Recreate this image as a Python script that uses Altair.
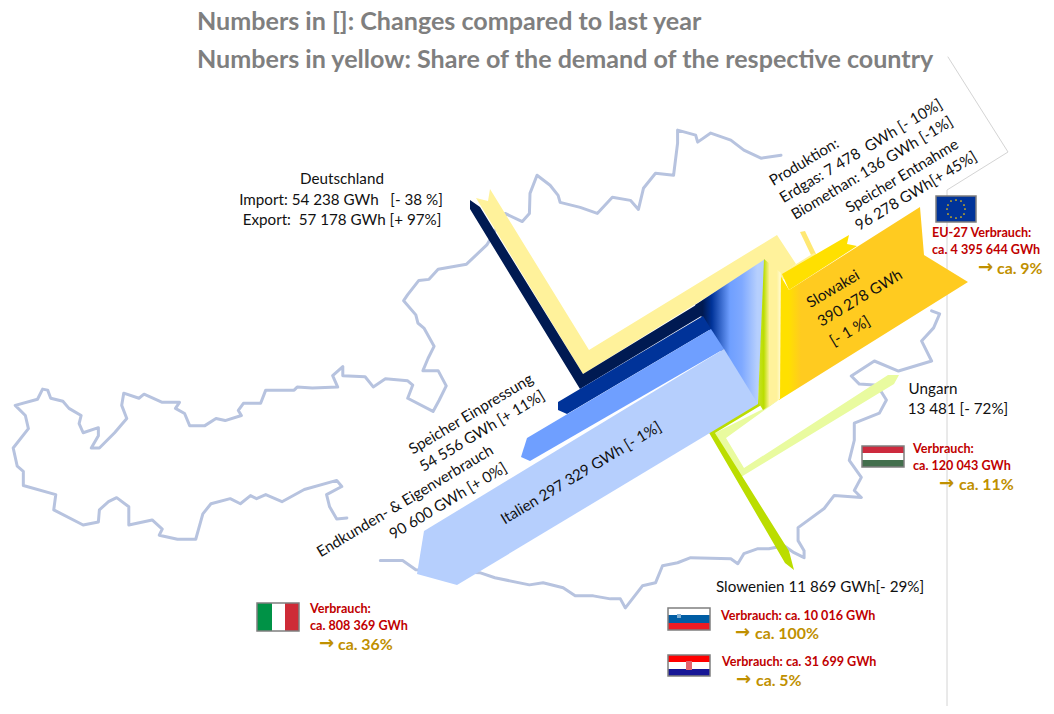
import altair as alt
import pandas as pd

W, H = 1038, 698
FONT = "Lato"

map_west_raw = [(342,516),(332,517),(325,505),(322,493),(337,485),(332,479),(300,488),(278,500),(262,493),(253,497),(247,494),(237,502),(227,497),(208,502),(200,512),(193,537),(175,537),(157,533),(160,527),(150,518),(127,523),(127,505),(115,496),(107,500),(98,508),(97,520),(82,523),(53,508),(55,493),(23,484),(23,470),(17,465),(13,447),(28,428),(25,415),(15,405),(37,399),(42,389),(47,390),(50,398),(62,401),(68,408),(80,415),(78,423),(82,432),(97,427),(97,435),(90,447),(98,447),(113,432),(125,418),(120,405),(122,393),(137,398),(142,394),(160,402),(177,402),(173,408),(182,413),(187,425),(202,425),(213,418),(222,420),(238,415),(235,410),(240,403),(257,403),(262,390),(290,390),(293,387),(308,384),(333,387),(328,372),(338,363),(338,372),(360,373),(368,383),(380,375),(402,377),(407,385),(402,398),(427,411),(433,400),(440,382),(432,367),(417,367),(422,355),(428,343),(418,325),(412,320),(410,312),(398,298),(402,292),(413,278),(423,277),(432,267),(460,262),(480,243),(498,212),(515,220),(522,212)]
map_north_raw = [(530,193),(537,175),(550,185),(558,195),(560,202),(580,207),(597,213),(612,197),(630,200),(638,209),(643,188),(655,173),(673,175),(677,143),(677,130),(695,135),(697,142),(710,133),(730,140),(743,150),(760,158),(780,155)]
map_east_raw = [(930,310),(938,313),(932,327),(920,340),(930,360),(897,370),(873,360),(850,375),(858,383),(873,385),(880,392),(885,400),(878,413),(853,423),(853,440),(848,460),(860,477),(853,490),(860,497),(833,495),(823,508),(797,527),(797,540),(803,550),(803,557),(793,552),(783,545),(768,548),(757,548),(743,553),(737,563),(730,558),(690,557),(677,562),(662,565),(655,582),(642,585),(625,607),(620,598),(610,598),(593,595),(575,595),(563,587),(543,582)]
map_south_raw = [(522,582),(488,575),(473,570),(410,567),(397,558),(375,558)]
box_outline = [(948,57),(1008,152),(947,190),(947,706)]

ungarn = [(763,409),(715,433),(741,477),(894,384),(899,375),(888,375),(744,468),(726,438),(780,399)]
slowenien = [(708,431),(760,400),(763,404),(715,433),(742,476),(789,551),(794,570),(785,563)]
creme = [(476,198),(488,201),(490,189),(589,350),(777,235),(796,264),(780,275),(765,261),(583,374)]
creme_link = [(780,274),(814,253),(818,256),(782,280)]
creme_stem = [(800,232),(805,231),(816,254),(811,255)]
navy = [(470,200),(480,207),(583,374),(701,302),(703,315),(580,389),(470,209)]
entnahme = [(782,274),(849,235),(847,244),(857,246),(789,290)]
slowakei = [(780,275),(789,290),(920,207),(924,255),(968,282),(779,400)]
einpressung = [(558,402),(703,316),(711,329),(567,414),(558,410)]
endkunden = [(527,438),(711,329),(724,349),(530,461),(521,457)]
italien = [(424,531),(724,349),(758,404),(457,585),(417,574)]
fan = [(695,305),(765,259),(758,404),(750,404)]
strip = [(764,259),(781,273),(780,399),(763,410),(758,402)]

texts_black = [
    ("Deutschland",342,179,0),("Import: 54 238 GWh\u00a0\u00a0 [- 38 %]",341,200,0),("Export:\u00a0 57 178 GWh [+ 97%]",342,220,0),
    ("Produktion:",804,162,329),("Erdgas: 7 478\u00a0 GWh [- 10%]",861,151,329),("Biomethan: 136 GWh [-1%]",872,168,329),
    ("Speicher Entnahme",902,176,329),("96 278 GWh[+ 45%]",916,191,329),
    ("Speicher Einpressung",471,414,329),("54 556 GWh [+ 11%]",482,431,329),
    ("Endkunden- & Eigenverbrauch",405,501,329),("90 600 GWh [+ 0%]",448,501,329),
    ("Italien 297 329 GWh [- 1%]",581,473,329),
    ("Slowakei",833,289,329),("390 278 GWh",860,298,329),("[- 1 %]",850,331,329),
    ("Ungarn",933,389,0),("13 481 [- 72%]",958,409,0),("Slowenien 11 869 GWh[- 29%]",820,587,0),
]
texts_red = [
    ("Verbrauch:",310,609),("ca. 808 369 GWh",310,626),("Verbrauch:",913,449),("ca. 120 043 GWh",913,466),
    ("Verbrauch: ca. 10 016 GWh",721,616),("Verbrauch: ca. 31 699 GWh",722,662),
    ("EU-27 Verbrauch:",932,233),("ca. 4 395 644 GWh",932,250),
]
texts_gold = [("ca. 36%",338,645),("ca. 11%",959,485),("ca. 100%",755,634),("ca. 5%",756,681),("ca. 9%",997,269)]
texts_arrow = [("\u2192",319,644),("\u2192",939,484),("\u2192",735,633),("\u2192",736,680),("\u2192",978,268)]
titles = [("Numbers in []: Changes compared to last year",197,22),("Numbers in yellow: Share of the demand of the respective country",197,60)]

flag_frames = [(257,299,603,631),(862,904,446,467),(668,710,608,630),(668,710,655,676),(936,976,196,222)]
flag_parts = [
    (257,272,603,631,"#009246"),(272,285,603,631,"#FFFFFF"),(285,299,603,631,"#CE2B37"),
    (862,904,446,453,"#CD2A3E"),(862,904,453,460,"#FFFFFF"),(862,904,460,467,"#436F4D"),
    (668,710,608,615,"#FFFFFF"),(668,710,615,623,"#005DA4"),(668,710,623,630,"#ED1C24"),
    (677,681,614,618,"#7FAED2"),
    (668,710,655,662,"#FF0000"),(668,710,662,669,"#FFFFFF"),(668,710,669,676,"#171796"),
    (686,692,661,670,"#E4646E"),
    (936,976,196,222,"#003399"),
]
eu_stars = [(956,200),(961,201),(964,205),(965,209),(964,214),(961,217),(956,218),(951,217),(948,214),(947,209),(948,205),(951,201)]


def west(p):
    y0 = 380 if p[1] >= 385 else 110
    return (p[0] * 1.0142, y0 + (p[1] - y0) * 1.0142)


def east(p):
    y0 = 380 if p[1] >= 385 else 110
    return (530 + (p[0] - 530) * 1.004, y0 + (p[1] - y0) * 1.004)


map_west = [west(p) for p in map_west_raw] + [east(p) for p in map_north_raw]
map_east = [east(p) for p in map_east_raw] + [west(p) for p in map_south_raw]

X = alt.X("x:Q", scale=alt.Scale(domain=[8, 8 + W]), axis=None)
Y = alt.Y("y:Q", scale=alt.Scale(domain=[8 + H, 8]), axis=None)


def table(points):
    return pd.DataFrame([{"x": p[0], "y": p[1], "i": i} for i, p in enumerate(points)])


def poly(points, fill):
    return alt.Chart(table(points)).mark_line(fill=fill, strokeWidth=0, clip=True).encode(
        x=X, y=Y, order=alt.Order("i:Q"))


def path(points, color, width, opacity=1.0):
    return alt.Chart(table(points)).mark_line(stroke=color, strokeWidth=width, opacity=opacity,
                                              strokeJoin="round", strokeCap="round").encode(
        x=X, y=Y, order=alt.Order("i:Q"))


def grad(stops):
    return alt.Gradient(gradient="linear", x1=0, x2=1, y1=0, y2=0,
                        stops=[alt.GradientStop(offset=o, color=c) for o, c in stops])


def text_layer(rows, color, size, weight="normal", align="left", font=FONT):
    df = pd.DataFrame(rows, columns=["t", "x", "y", "a"] if len(rows[0]) == 4 else ["t", "x", "y"])
    if "a" not in df:
        df["a"] = 0
    layers = []
    for a, sub in df.groupby("a"):
        layers.append(alt.Chart(sub).mark_text(font=font, fontSize=size, fontWeight=weight, color=color,
                                               align=align, baseline="middle", angle=float(a)).encode(
            x=X, y=Y, text="t:N"))
    return layers


def rects(rows):
    out = []
    for r in rows:
        df = pd.DataFrame([{"x": r[0], "x2": r[1], "y": r[2], "y2": r[3]}])
        kw = {"fill": r[4]} if len(r) > 4 else {"filled": False, "stroke": "#7F7F7F", "strokeWidth": 1.5}
        out.append(alt.Chart(df).mark_rect(**kw).encode(x=X, x2="x2:Q", y=Y, y2="y2:Q"))
    return out


layers = [
    path(map_west, "#B7C3DF", 3),
    path(map_east, "#B7C3DF", 3),
    path(box_outline, "#D4D4D4", 1),
    poly(ungarn, "#E9FB9F"),
    poly(slowenien, "#BBDD00"),
    poly(creme_stem, "#FFE873"),
    poly(creme, "#FFF29B"),
    poly(creme_link, "#FFF29B"),
    poly(fan, grad([(0, "#001A52"), (0.11, "#001A52"), (0.24, "#003399"), (0.5, "#6F9FFF"), (0.67, "#7FA9FF"), (0.89, "#B6CFFD"), (1, "#B6CFFD")])),
    poly(navy, "#001A52"),
    poly(einpressung, "#003399"),
    poly(endkunden, "#6F9FFF"),
    poly(italien, "#B6CFFD"),
    poly(entnahme, "#FFE000"),
    poly(slowakei, grad([(0, "#FFE000"), (0.05, "#FFE000"), (0.116, "#FFCB20"), (1, "#FFCB20")])),
    poly(strip, grad([(0, "#C5E32A"), (0.25, "#BBDD00"), (0.5, "#FFF29B"), (0.82, "#FFF29B"), (0.97, "#FFFBD0"), (1, "#FFF29B")])),
]
layers += rects(flag_parts)
layers += rects(flag_frames)
layers.append(alt.Chart(table(eu_stars)).mark_circle(size=3, color="#FFCC00", opacity=1).encode(x=X, y=Y))
layers += text_layer(titles, "#7F7F7F", 25.1, "bold")
layers += text_layer(texts_black, "#111111", 15.2, align="center")
layers += text_layer(texts_red, "#C00000", 12.6, "bold")
layers += text_layer(texts_gold, "#BF9000", 15.9, "bold")
layers += text_layer(texts_arrow, "#BF9000", 18, "bold", font="DejaVu Sans")

chart = alt.layer(*layers).properties(width=W, height=H, padding=0, autosize=alt.AutoSizeParams(type="none")).configure_view(stroke=None)
chart.save("out.html", embed_options={"renderer": "svg", "actions": False})
